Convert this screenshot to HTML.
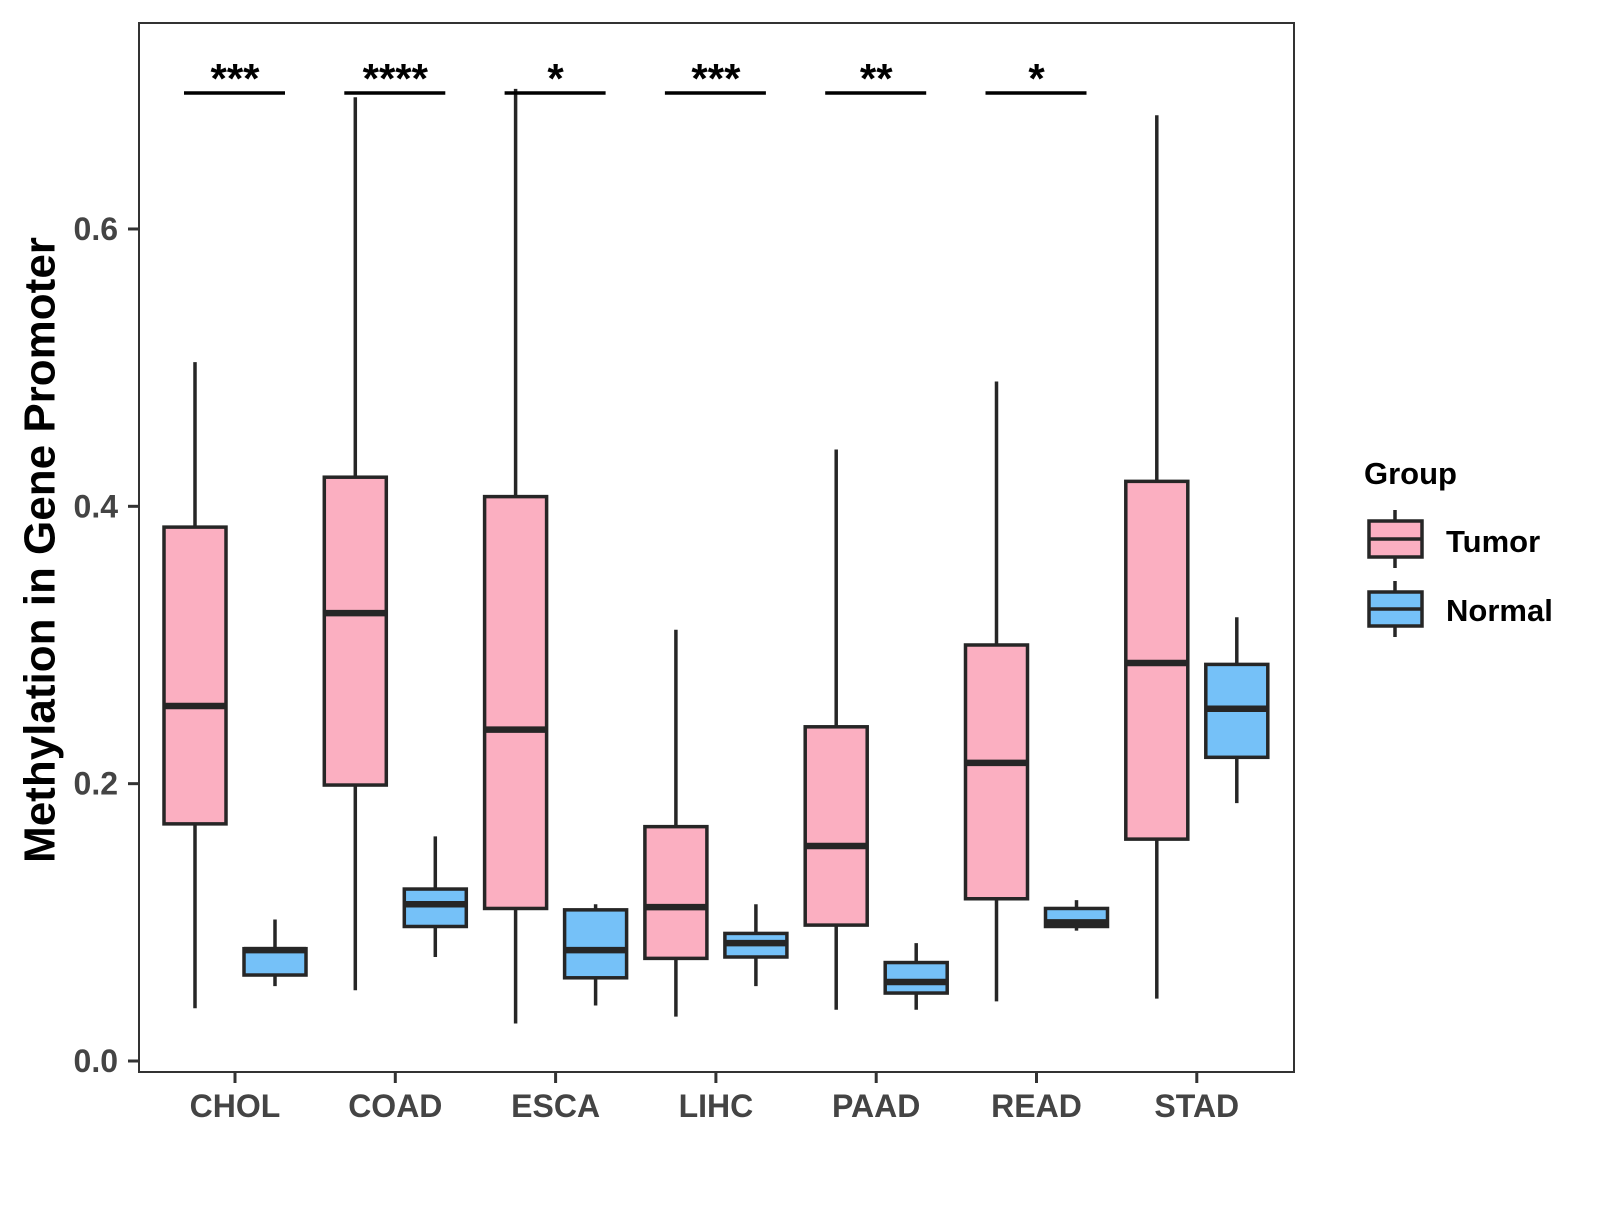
<!DOCTYPE html>
<html><head><meta charset="utf-8"><style>
body{margin:0;background:#fff;}
text{font-family:"Liberation Sans",Arial,sans-serif;font-weight:bold;}
</style></head><body>
<svg id="chart" width="1600" height="1200" viewBox="0 0 1600 1200" xmlns="http://www.w3.org/2000/svg">
<rect x="139" y="23" width="1155" height="1049" fill="#fff" stroke="#333" stroke-width="2"/>
<g id="ticks"></g><g id="boxes"></g><g id="sig"></g>
<text x="40" y="550" transform="rotate(-90 40 550)" text-anchor="middle" dominant-baseline="central" font-size="44" fill="#000">Methylation in Gene Promoter</text>
<g>
<text x="1364" y="484" font-size="31" fill="#000">Group</text>
<g>
<line x1="1395" y1="510" x2="1395" y2="568" stroke="#262626" stroke-width="3.5"/>
<rect x="1369" y="521" width="53" height="36" fill="#FBAFC1" stroke="#262626" stroke-width="3.5"/>
<line x1="1369" y1="539" x2="1422" y2="539" stroke="#262626" stroke-width="3.5"/>
<text x="1446" y="552" font-size="31" fill="#000">Tumor</text></g>
<g>
<line x1="1395" y1="581" x2="1395" y2="637" stroke="#262626" stroke-width="3.5"/>
<rect x="1369" y="592" width="53" height="34" fill="#75C1F8" stroke="#262626" stroke-width="3.5"/>
<line x1="1369" y1="609" x2="1422" y2="609" stroke="#262626" stroke-width="3.5"/>
<text x="1446" y="621" font-size="31" fill="#000">Normal</text></g>
</g>
</svg>
<script>
const categories=["CHOL","COAD","ESCA","LIHC","PAAD","READ","STAD"];
const tumorLow=[.038,.051,.027,.032,.037,.043,.045];
const tumorQ1=[.171,.199,.110,.074,.098,.117,.160];
const tumorMed=[.256,.323,.239,.111,.155,.215,.287];
const tumorQ3=[.385,.421,.407,.169,.241,.300,.418];
const tumorHigh=[.504,.695,.701,.311,.441,.490,.682];
const normalLow=[.054,.075,.040,.054,.037,.094,.186];
const normalQ1=[.062,.097,.060,.075,.049,.097,.219];
const normalMed=[.080,.113,.080,.085,.057,.100,.254];
const normalQ3=[.081,.124,.109,.092,.071,.110,.286];
const normalHigh=[.102,.162,.113,.113,.085,.116,.320];
const sigLabels=["***","****","*","***","**","*",""];
const yTicks=[0,0.2,0.4,0.6];
const yTickLabels=["0.0","0.2","0.4","0.6"];
const NS="http://www.w3.org/2000/svg";
const y=v=>1061-1386.7*v;
const x=i=>235+160.3*i;
function mk(tag,attrs,parent){const e=document.createElementNS(NS,tag);for(const k in attrs)e.setAttribute(k,attrs[k]);parent.appendChild(e);return e;}
const tg=document.getElementById('ticks'),bg=document.getElementById('boxes'),sg=document.getElementById('sig');
yTicks.forEach((v,i)=>{
 const l=mk('line',{x1:128,x2:139,y1:y(v),y2:y(v),stroke:'#333','stroke-width':3},tg);
 
 
 const t=mk('text',{x:118,y:y(v)+11,'text-anchor':'end','font-size':32,fill:'#444'},tg);t.textContent=yTickLabels[i];
 
 
});
categories.forEach((c,i)=>{
 const l=mk('line',{x1:x(i),x2:x(i),y1:1072,y2:1083,stroke:'#333','stroke-width':3},tg);
 
 
 const t=mk('text',{x:x(i),y:1117,'text-anchor':'middle','font-size':32,fill:'#444'},tg);t.textContent=c;
 
 
 const groups=[[-40,'#FBAFC1',tumorLow,tumorQ1,tumorMed,tumorQ3,tumorHigh,'tumor'],[40,'#75C1F8',normalLow,normalQ1,normalMed,normalQ3,normalHigh,'normal']];
 groups.forEach(g=>{
  const cx=x(i)+g[0];
  const G=mk('g',{},bg);
  
  
  mk('line',{x1:cx,x2:cx,y1:y(g[2][i]),y2:y(g[6][i]),stroke:'#262626','stroke-width':3.5},G);
  mk('rect',{x:cx-31,y:y(g[5][i]),width:62,height:y(g[3][i])-y(g[5][i]),fill:g[1],stroke:'#262626','stroke-width':3.5},G);
  mk('line',{x1:cx-31,x2:cx+31,y1:y(g[4][i]),y2:y(g[4][i]),stroke:'#262626','stroke-width':6.5},G);
 });
 if(sigLabels[i]){
  const S=mk('g',{},sg);
  
  
  mk('line',{x1:x(i)-51,x2:x(i)+50,y1:93,y2:93,stroke:'#000','stroke-width':3.5},S);
  const t=mk('text',{x:x(i),y:93,'text-anchor':'middle','font-size':42,fill:'#000'},S);t.textContent=sigLabels[i];
 }
});
</script>
</body></html>
